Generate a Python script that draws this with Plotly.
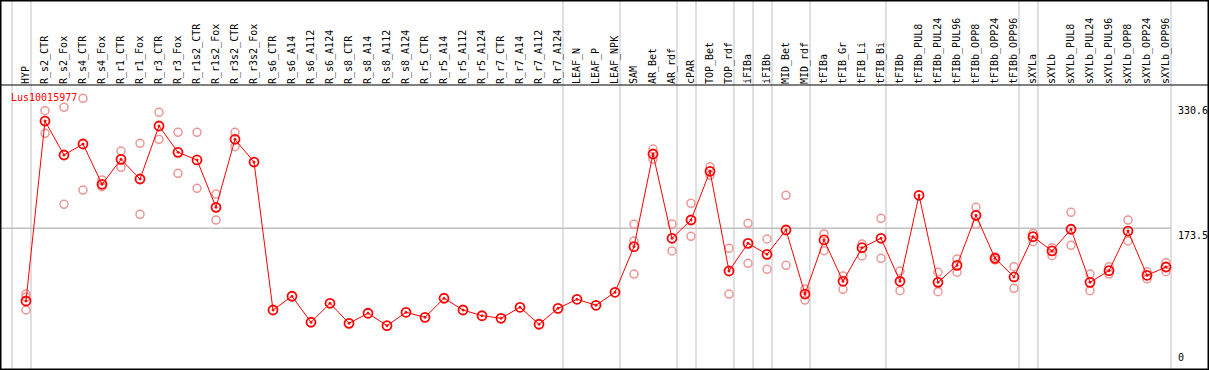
import plotly.graph_objects as go

categories = ["HYP", "R_s2_CTR", "R_s2_Fox", "R_s4_CTR", "R_s4_Fox", "R_r1_CTR", "R_r1_Fox",
              "R_r3_CTR", "R_r3_Fox", "R_r1s2_CTR", "R_r1s2_Fox", "R_r3s2_CTR", "R_r3s2_Fox",
              "R_s6_CTR", "R_s6_A14", "R_s6_A112", "R_s6_A124", "R_s8_CTR", "R_s8_A14", "R_s8_A112",
              "R_s8_A124", "R_r5_CTR", "R_r5_A14", "R_r5_A112", "R_r5_A124", "R_r7_CTR", "R_r7_A14",
              "R_r7_A112", "R_r7_A124", "LEAF_N", "LEAF_P", "LEAF_NPK", "SAM", "AR_Bet", "AR_rdf",
              "cPAR", "TOP_Bet", "TOP_rdf", "iFIBa", "iFIBb", "MID_Bet", "MID_rdf", "tFIBa",
              "tFIB_Gr", "tFIB_Li", "tFIB_Bi", "tFIBb", "tFIBb_PUL8", "tFIBb_PUL24", "tFIBb_PUL96",
              "tFIBb_OPP8", "tFIBb_OPP24", "tFIBb_OPP96", "sXYLa", "sXYLb", "sXYLb_PUL8",
              "sXYLb_PUL24", "sXYLb_PUL96", "sXYLb_OPP8", "sXYLb_OPP24", "sXYLb_OPP96"]

means = [82.4, 308.0, 265.4, 279.2, 228.7, 260.0, 235.3, 301.8, 268.8, 259.2, 199.8, 285.1, 256.6,
         71.1, 88.3, 55.7, 79.5, 54.4, 67.0, 51.4, 68.2, 61.9, 85.8, 71.1, 63.9, 60.7, 74.5,
         53.2, 73.2, 84.5, 77.0, 93.3, 150.5, 266.7, 161.0, 183.9, 245.0, 120.0, 154.7, 140.9,
         171.4, 91.1, 158.9, 107.1, 149.2, 161.0, 107.1, 214.9, 105.8, 127.1, 189.8, 135.9,
         112.5, 163.0, 145.1, 172.3, 105.8, 120.4, 170.1, 114.6, 125.0]

rep_hi = [91.1, 321.0, 325.2, 336.5, 234.1, 270.4, 280.1, 319.0, 293.9, 293.9, 216.5, 293.9, None,
          None, None, None, None, None, None, None, None, None, None, None, None, None, None,
          None, None, None, None, None, 178.5, 272.9, 178.9, 204.9, 250.8, 148.4, 179.8, 160.1,
          214.9, 97.4, 166.4, 113.7, 153.8, 186.1, 120.0, None, 118.4, 135.0, 199.8, 137.9,
          125.4, 167.3, 149.2, 193.6, 116.2, 125.4, 183.9, 119.1, 130.4]

rep_mid = [87.4, None, None, None, None, None, None, None, None, None, None, None, None,
           None, None, None, None, None, None, None, None, None, None, None, None, None, None,
           None, None, None, None, None, 157.6, None, None, None, None, None, None, None,
           None, None, None, None, None, None, None, None, None, None, None, None,
           None, None, None, None, None, None, None, None, None]

rep_lo = [71.1, 292.6, 203.6, 221.5, 225.7, 250.0, 191.1, 285.1, 242.5, 223.7, 183.9, 275.8, None,
          None, None, None, None, None, None, None, None, None, None, None, None, None, None,
          None, None, None, None, None, 116.2, 260.0, 145.1, 163.5, 240.0, 91.1, 129.6, 122.1,
          127.1, 83.6, 145.4, 97.0, 138.8, 135.9, 95.3, None, 94.0, 118.4, 178.5, 133.8,
          98.3, 156.7, 139.2, 152.2, 95.3, 116.2, 157.6, 110.0, 119.1]

group_starts = [0, 1, 29, 32, 35, 36, 38, 39, 40, 42, 46, 53, 54, 61]
y_ticks = [0, 173.5, 330.6]
title = "Lus10015977"

W, H = 1209, 370
TOP = 85          # pixel of separator line
K = 0.7976        # px per unit
Y0PX = 366.7      # pixel of value 0
yr0 = -(H - Y0PX) / K
yr1 = yr0 + (H - TOP) / K
xr0 = -26 / 19
xr1 = xr0 + W / 19

idx = list(range(len(categories)))
font = "DejaVu Sans Mono"
pink = "rgb(236,150,150)"

fig = go.Figure()
for reps in (rep_hi, rep_mid, rep_lo):
    fig.add_trace(go.Scatter(
        x=idx, y=reps, mode="markers",
        marker=dict(symbol="circle-open", size=8, color=pink, line=dict(width=1.5, color=pink)),
        hoverinfo="skip", showlegend=False))
fig.add_trace(go.Scatter(
    x=idx, y=means, mode="lines+markers",
    line=dict(color="red", width=1),
    marker=dict(symbol="circle-open-dot", size=9, color="red", line=dict(width=1.8, color="red")),
    showlegend=False))

shapes = []
for b in group_starts:
    shapes.append(dict(type="line", xref="x", yref="paper", x0=b - 0.737, x1=b - 0.737, y0=0, y1=1,
                       line=dict(color="rgb(192,192,192)", width=1), layer="below"))
shapes.append(dict(type="line", xref="paper", yref="y", x0=0, x1=(61 - 0.737 - xr0) / (xr1 - xr0),
                   y0=y_ticks[1], y1=y_ticks[1], line=dict(color="rgb(192,192,192)", width=1.5),
                   layer="below"))
shapes.append(dict(type="line", xref="paper", yref="paper", x0=0, x1=1, y0=1 - TOP / H, y1=1 - TOP / H,
                   line=dict(color="black", width=1.2)))
shapes.append(dict(type="rect", xref="paper", yref="paper", x0=0, x1=1, y0=0, y1=1,
                   line=dict(color="black", width=3)))

annotations = [dict(text=title, xref="paper", yref="paper", x=9 / W, y=1 - 97 / H,
                    xanchor="left", yanchor="middle", showarrow=False,
                    font=dict(family=font, size=10, color="red"))]
for v in y_ticks:
    annotations.append(dict(text=str(v), xref="paper", yref="y", x=1176 / W, y=v,
                            xanchor="left", yanchor="bottom" if v == 0 else "top", showarrow=False,
                            font=dict(family=font, size=10, color="black"),
                            yshift=2 if v == 0 else 0))

fig.update_layout(
    width=W, height=H, margin=dict(l=0, r=0, t=0, b=0, pad=0, autoexpand=False),
    paper_bgcolor="white", plot_bgcolor="white",
    shapes=shapes, annotations=annotations,
    xaxis=dict(range=[xr0, xr1], side="top", tickmode="array", tickvals=idx, ticktext=categories,
               tickangle=-90, showgrid=False, zeroline=False, showline=False, ticks="",
               automargin=False,
               tickfont=dict(family=font, size=10, color="black")),
    yaxis=dict(range=[yr0, yr1], domain=[0, 1 - TOP / H], showgrid=False, zeroline=False,
               showticklabels=False, showline=False, automargin=False),
)

fig.write_html("out.html", config={"displayModeBar": False},
               post_script="document.body.style.margin='0';document.body.style.padding='0';"
                           "document.body.style.overflow='hidden';")
